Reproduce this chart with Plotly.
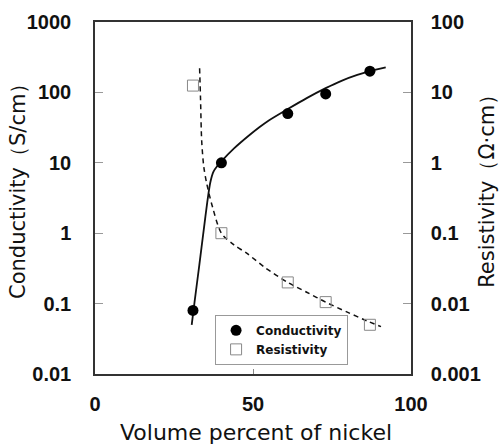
import plotly.graph_objects as go

# Measured samples
nickel_pct = [31, 40, 61, 73, 87]
conductivity = [0.08, 10, 50, 95, 200]          # S/cm
resistivity = [12.5, 0.1, 0.02, 0.0105, 0.005]   # ohm·cm

# Fitted trend curves
cond_fit_x = [30.6, 31.5, 33.0, 34.5, 35.5, 36.5, 37.5, 38.7, 40.0, 44, 49, 52, 55, 61, 67, 73, 78, 83, 87, 92]
cond_fit_y = [0.05, 0.105, 0.35, 1.2, 2.7, 5.3, 7.5, 9.0, 10.5, 16, 25, 32, 40, 58, 83, 115, 146, 177, 200, 226]

res_fit_x = [33.1, 33.4, 33.75, 34.4, 35.3, 37.2, 40.0, 44, 48, 54, 61, 67, 73, 80, 86, 90.5]
res_fit_y = [22, 8, 2.1, 0.9, 0.52, 0.235, 0.1, 0.068, 0.052, 0.032, 0.02, 0.0145, 0.0105, 0.0075, 0.0057, 0.0047]

# Axis tick labels
x_ticks = [0, 50, 100]
cond_ticks = [0.01, 0.1, 1, 10, 100, 1000]
cond_tick_text = ["0.01", "0.1", "1", "10", "100", "1000"]
res_ticks = [0.001, 0.01, 0.1, 1, 10, 100]
res_tick_text = ["0.001", "0.01", "0.1", "1", "10", "100"]

TICK_FONT = dict(family="Liberation Sans, Arial, sans-serif", size=20, color="#111", weight="bold")
TITLE_FONT = dict(family="DejaVu Sans, sans-serif", size=21, color="#111")
AXIS_COLOR = "#333"

fig = go.Figure()

fig.add_trace(go.Scatter(
    x=cond_fit_x, y=cond_fit_y, mode="lines", yaxis="y",
    line=dict(color="#111", width=1.8, shape="spline", smoothing=0.8),
    showlegend=False, hoverinfo="skip"))
fig.add_trace(go.Scatter(
    x=res_fit_x, y=res_fit_y, mode="lines", yaxis="y2",
    line=dict(color="#111", width=1.5, dash="5px,4px", shape="spline", smoothing=0.8),
    showlegend=False, hoverinfo="skip"))

fig.add_trace(go.Scatter(
    x=nickel_pct, y=conductivity, mode="markers", yaxis="y", name="Conductivity",
    marker=dict(symbol="circle", size=11, color="#000")))
fig.add_trace(go.Scatter(
    x=nickel_pct, y=resistivity, mode="markers", yaxis="y2", name="Resistivity",
    marker=dict(symbol="square-open", size=11, color="#888", line=dict(width=1))))

fig.update_layout(
    width=501, height=445,
    margin=dict(l=95, r=90, t=22, b=71),
    paper_bgcolor="white", plot_bgcolor="white",
    xaxis=dict(
        range=[0, 100], tickvals=x_ticks, ticks="inside", ticklen=5, tickcolor="#888",
        showline=True, linecolor=AXIS_COLOR, linewidth=1.5, mirror=True,
        showgrid=False, zeroline=False, tickfont=TICK_FONT, ticklabelstandoff=11),
    yaxis=dict(
        type="log", range=[-2, 3], tickvals=cond_ticks, ticktext=cond_tick_text,
        ticks="inside", ticklen=8, tickcolor="#999",
        showline=True, linecolor=AXIS_COLOR, linewidth=1.5,
        showgrid=False, zeroline=False, tickfont=TICK_FONT, ticklabelstandoff=18),
    yaxis2=dict(
        type="log", range=[-3, 2], tickvals=res_ticks, ticktext=res_tick_text,
        overlaying="y", side="right",
        ticks="inside", ticklen=8, tickcolor="#999",
        showline=True, linecolor=AXIS_COLOR, linewidth=1.5,
        showgrid=False, zeroline=False, tickfont=TICK_FONT, ticklabelstandoff=14),
    legend=dict(
        x=0.38, y=0.168, xanchor="left", yanchor="top",
        bgcolor="white", bordercolor="#999", borderwidth=1,
        font=dict(family="DejaVu Sans, sans-serif", size=12, color="#111", weight="bold"),
        itemwidth=30, tracegroupgap=0),
    annotations=[
        dict(text="Volume percent of nickel", xref="paper", yref="paper",
             x=0.51, y=-0.165, xanchor="center", yanchor="middle",
             showarrow=False, font=dict(TITLE_FONT, size=22)),
        dict(text="Conductivity（S/cm）", xref="paper", yref="paper",
             x=-0.2437, y=0.534, xanchor="center", yanchor="middle", textangle=-90,
             showarrow=False, font=TITLE_FONT),
        dict(text="Resistivity（Ω·cm）", xref="paper", yref="paper",
             x=1.24, y=0.534, xanchor="center", yanchor="middle", textangle=-90,
             showarrow=False, font=TITLE_FONT),
    ],
)

fig.write_html("out.html")
